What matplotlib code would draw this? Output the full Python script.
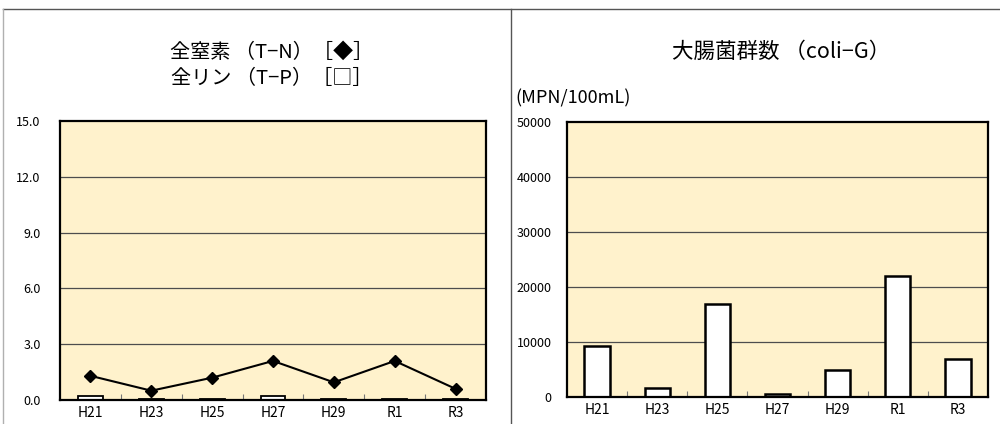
import matplotlib
matplotlib.use('Agg')
import matplotlib.pyplot as plt
import numpy as np
from matplotlib.lines import Line2D

plt.rcParams['font.family'] = ['Noto Sans CJK JP', 'DejaVu Sans']

# data
years = ['H21', 'H23', 'H25', 'H27', 'H29', 'R1', 'R3']
tn = [1.3, 0.5, 1.2, 2.1, 0.95, 2.1, 0.6]
tp = [0.22, 0.06, 0.07, 0.24, 0.07, 0.04, 0.07]
coli = [9200, 1700, 17000, 500, 4900, 22000, 6900]
tn_ticks = [0.0, 3.0, 6.0, 9.0, 12.0, 15.0]
coli_ticks = [0, 10000, 20000, 30000, 40000, 50000]

W, H = 1000, 424
fig = plt.figure(figsize=(W / 100, H / 100), dpi=100)
bg = '#fff2cc'

def px(x0, y0, x1, y1):
    return [x0 / W, 1 - y1 / H, (x1 - x0) / W, (y1 - y0) / H]

def style(ax, ticks, fmt):
    ax.set_facecolor(bg)
    ax.set_xlim(-0.5, len(years) - 0.5)
    ax.set_ylim(ticks[0], ticks[-1])
    ax.set_yticks(ticks)
    ax.set_yticklabels([fmt(t) for t in ticks], fontsize=9)
    ax.set_xticks(range(len(years)))
    ax.set_xticklabels(years, fontsize=10)
    ax.set_xticks(np.arange(0.5, len(years) - 0.5, 1), minor=True)
    ax.tick_params(axis='x', which='major', length=0, pad=4)
    ax.tick_params(axis='x', which='minor', length=4, direction='in', color='#777777', width=0.8)
    ax.tick_params(axis='y', length=0, pad=14)
    for t in ticks[1:-1]:
        ax.axhline(t, color='#4d4d4d', lw=0.9, zorder=1)
    for s in ax.spines.values():
        s.set_linewidth(1.6)
        s.set_color('black')
        s.set_zorder(5)

x = np.arange(len(years))

# left: T-N line, T-P bars
ax1 = fig.add_axes(px(60, 121, 486, 400))
style(ax1, tn_ticks, lambda t: f'{t:.1f}')
ax1.bar(x, tp, width=0.41, color='white', edgecolor='black', linewidth=1.3, zorder=3)
ax1.plot(x, tn, color='black', lw=1.5, marker='D', markersize=6, zorder=4)

# right: coliform bars
ax2 = fig.add_axes(px(567, 122, 988, 397))
style(ax2, coli_ticks, lambda t: f'{t:d}')
ax2.tick_params(axis='y', pad=11)
ax2.bar(x, coli, width=0.42, color='white', edgecolor='black', linewidth=1.8, zorder=3)

# titles
fig.text(272 / W, 1 - 52 / H, '全窒素 （T−N）［◆］', ha='center', va='center', fontsize=14.5)
fig.text(272 / W, 1 - 79 / H, '全リン （T−P）［□］', ha='center', va='center', fontsize=14.5)
fig.text(781 / W, 1 - 52 / H, '大腸菌群数 （coli−G）', ha='center', va='center', fontsize=15.5)
fig.text(515 / W, 1 - 98 / H, '(MPN/100mL)', ha='left', va='center', fontsize=13)

# outer frame lines
fig.add_artist(Line2D([3 / W, 1], [1 - 9 / H] * 2, color='#555555', lw=1, transform=fig.transFigure))
fig.add_artist(Line2D([3 / W] * 2, [0, 1 - 9 / H], color='#b0b0b0', lw=1, transform=fig.transFigure))
fig.add_artist(Line2D([511 / W] * 2, [0, 1 - 9 / H], color='#555555', lw=1, transform=fig.transFigure))

fig.savefig('out.png', dpi=100)
